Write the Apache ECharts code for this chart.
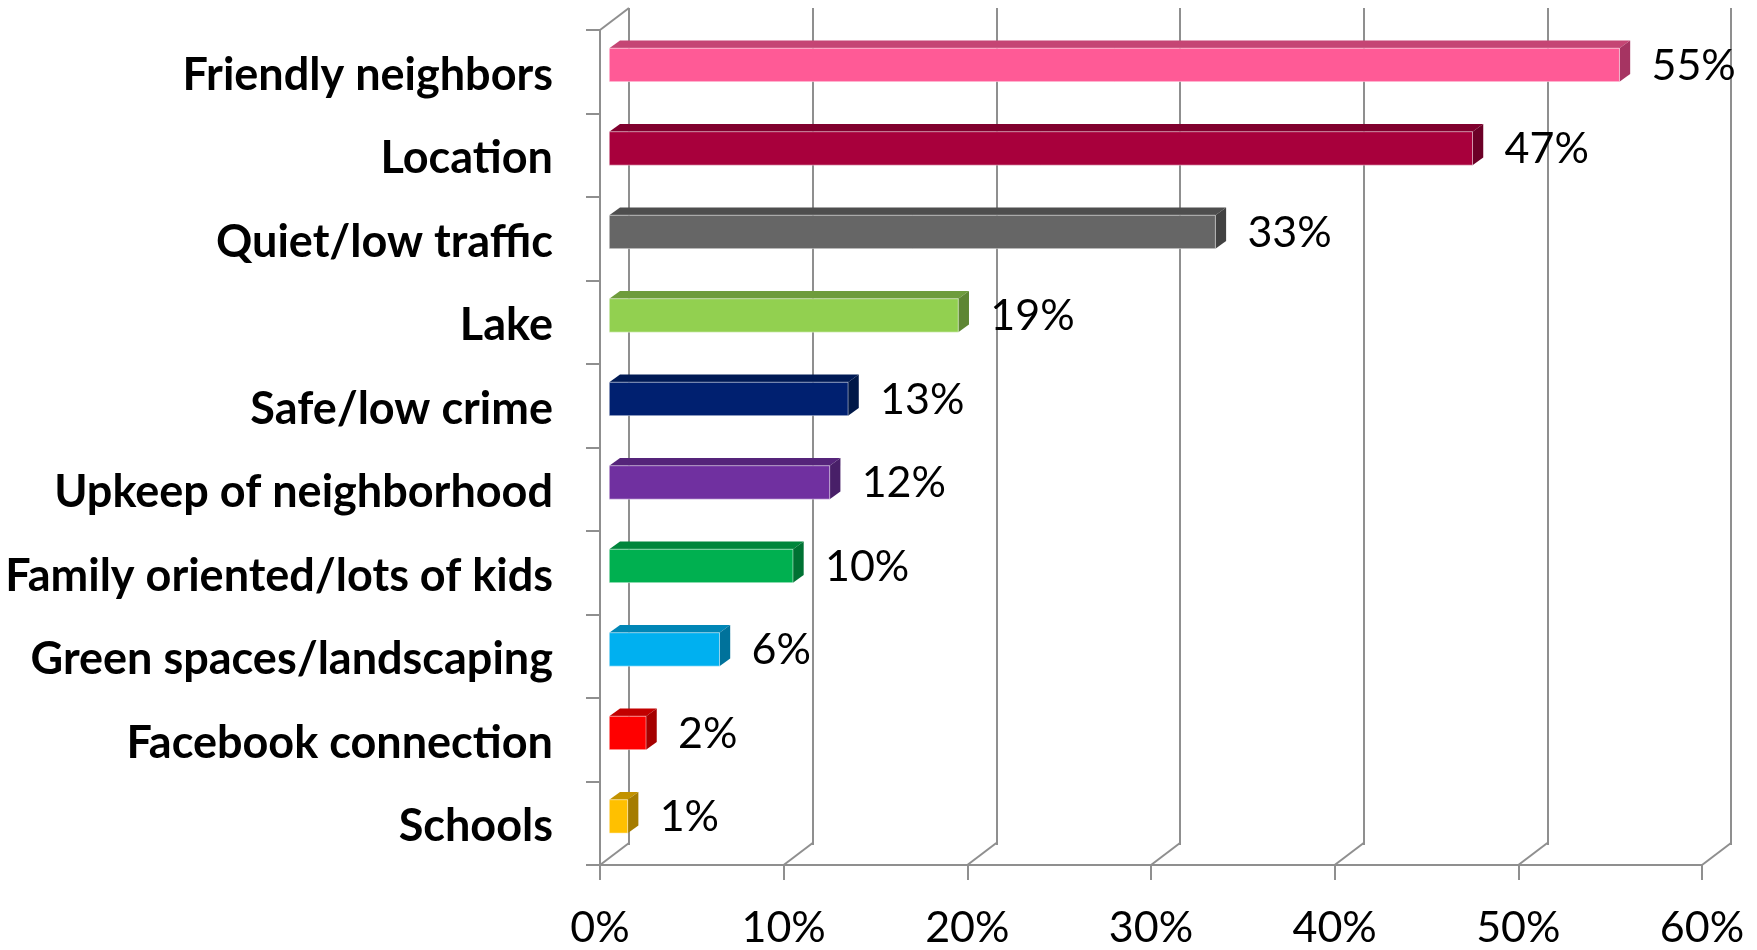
<!DOCTYPE html>
<html>
<head>
<meta charset="utf-8">
<title>What residents like about the neighborhood</title>
<script src="https://cdn.jsdelivr.net/npm/echarts@6/dist/echarts.min.js"></script>
<style>
  html, body { margin: 0; padding: 0; background: #ffffff; }
  #chart { width: 1757px; height: 950px; }
</style>
</head>
<body>
<div id="chart"></div>
<script>
// Survey answers, top to bottom
const categories = [
  'Friendly neighbors',
  'Location',
  'Quiet/low traffic',
  'Lake',
  'Safe/low crime',
  'Upkeep of neighborhood',
  'Family oriented/lots of kids',
  'Green spaces/landscaping',
  'Facebook connection',
  'Schools'
];
// Share of respondents, in percent
const shares = [55, 47, 33, 19, 13, 12, 10, 6, 2, 1];
// Percent ticks along the horizontal axis
const percentTicks = [0, 10, 20, 30, 40, 50, 60];

// Face colours of each bar: front, top, side
const frontColors = ['#FF5A96', '#A8003C', '#666666', '#92D050', '#002070', '#7030A0', '#00B050', '#00B0F0', '#FF0000', '#FFC000'];
const topColors   = ['#C54574', '#80002E', '#4E4E4E', '#6E9C3C', '#001A55', '#55247A', '#00863C', '#0086B6', '#C20000', '#C29200'];
const sideColors  = ['#A63462', '#6C0027', '#424242', '#5E8633', '#001848', '#481F68', '#007233', '#00729B', '#A50000', '#A57C00'];

// Depth of the 3-D box (pixels)
const DX = 29, DY = 22;
const AXIS_GRAY = '#8f8f8f';
const FONT = 'Lato, "Liberation Sans", Arial, sans-serif';

const chart = echarts.init(document.getElementById('chart'), null, { renderer: 'canvas' });

const front = { left: 600, top: 30, width: 1102, height: 837 };
const back = { left: front.left + DX, top: front.top - DY, width: front.width, height: front.height };

const option = {
  backgroundColor: '#ffffff',
  animation: false,
  grid: [
    Object.assign({ containLabel: false }, front),
    Object.assign({ containLabel: false }, back)
  ],
  xAxis: [
    {
      gridIndex: 0,
      type: 'value',
      min: percentTicks[0],
      max: percentTicks[percentTicks.length - 1],
      interval: 10,
      axisLine: { show: true, lineStyle: { color: AXIS_GRAY, width: 2 } },
      axisTick: { show: true, length: 15, lineStyle: { color: AXIS_GRAY, width: 2 } },
      splitLine: { show: false },
      axisLabel: {
        formatter: '{value}%',
        fontFamily: FONT,
        fontSize: 43,
        color: '#000000',
        margin: 42
      }
    },
    {
      gridIndex: 1,
      type: 'value',
      min: percentTicks[0],
      max: percentTicks[percentTicks.length - 1],
      interval: 10,
      axisLine: { show: false },
      axisTick: { show: false },
      axisLabel: { show: false },
      splitLine: { show: true, lineStyle: { color: AXIS_GRAY, width: 2 } }
    }
  ],
  yAxis: [
    {
      gridIndex: 0,
      type: 'category',
      inverse: true,
      data: categories,
      axisLine: { show: true, lineStyle: { color: AXIS_GRAY, width: 2 } },
      axisTick: { show: true, length: 14, lineStyle: { color: AXIS_GRAY, width: 2 } },
      axisLabel: {
        margin: 47,
        formatter: function (value) { return '{c|' + value + '}'; },
        rich: {
          c: {
            fontFamily: FONT,
            fontWeight: 'bold',
            fontSize: 45,
            color: '#000000',
            padding: [7, 0, 0, 0]
          }
        }
      }
    },
    {
      gridIndex: 1,
      type: 'category',
      inverse: true,
      data: categories,
      show: false
    }
  ],
  series: [
    {
      // Floor edges joining the front axis to the back wall
      type: 'custom',
      xAxisIndex: 0,
      yAxisIndex: 0,
      z: 1,
      silent: true,
      data: percentTicks.map(v => [v, 0]),
      renderItem: function (params, api) {
        const cs = params.coordSys;
        const x = api.coord([api.value(0), 0])[0];
        const bottom = cs.y + cs.height;
        const children = [{
          type: 'line',
          shape: { x1: x, y1: bottom, x2: x + DX, y2: bottom - DY },
          style: { stroke: AXIS_GRAY, lineWidth: 2 }
        }];
        if (params.dataIndex === 0) {
          children.push({
            type: 'line',
            shape: { x1: cs.x, y1: cs.y, x2: cs.x + DX, y2: cs.y - DY },
            style: { stroke: AXIS_GRAY, lineWidth: 2 }
          });
        }
        return { type: 'group', children: children };
      }
    },
    {
      // 3-D bars with value labels
      type: 'custom',
      xAxisIndex: 0,
      yAxisIndex: 0,
      z: 5,
      data: shares.map((v, i) => [v, i]),
      encode: { x: 0, y: 1 },
      renderItem: function (params, api) {
        const v = api.value(0);
        const i = api.value(1);
        const base = api.coord([0, i]);
        const end = api.coord([v, i]);
        const band = api.size([0, 1])[1];
        const h = band * 0.4;
        const fx = DX * 0.32, fy = -DY * 0.31;
        const ddx = DX * 0.37, ddy = DY * 0.35;
        const x0 = base[0] + fx;
        const x1 = end[0] + fx;
        const yc = base[1] + fy;
        const yT = yc - h / 2;
        const yB = yc + h / 2;
        const k = params.dataIndex;
        return {
          type: 'group',
          children: [
            {
              type: 'polygon',
              shape: { points: [[x0, yT], [x1, yT], [x1 + ddx, yT - ddy], [x0 + ddx, yT - ddy]] },
              style: { fill: topColors[k] }
            },
            {
              type: 'polygon',
              shape: { points: [[x1, yT], [x1 + ddx, yT - ddy], [x1 + ddx, yB - ddy], [x1, yB]] },
              style: { fill: sideColors[k] }
            },
            {
              type: 'rect',
              shape: { x: x0, y: yT, width: x1 - x0, height: h },
              style: { fill: frontColors[k], stroke: 'rgba(255,255,255,0.45)', lineWidth: 1 }
            },
            {
              type: 'text',
              style: {
                text: v + '%',
                x: x1 + 32,
                y: yc + 1,
                align: 'left',
                verticalAlign: 'middle',
                font: '43px ' + FONT,
                fill: '#000000'
              }
            }
          ]
        };
      }
    }
  ]
};

chart.setOption(option);
</script>
</body>
</html>
